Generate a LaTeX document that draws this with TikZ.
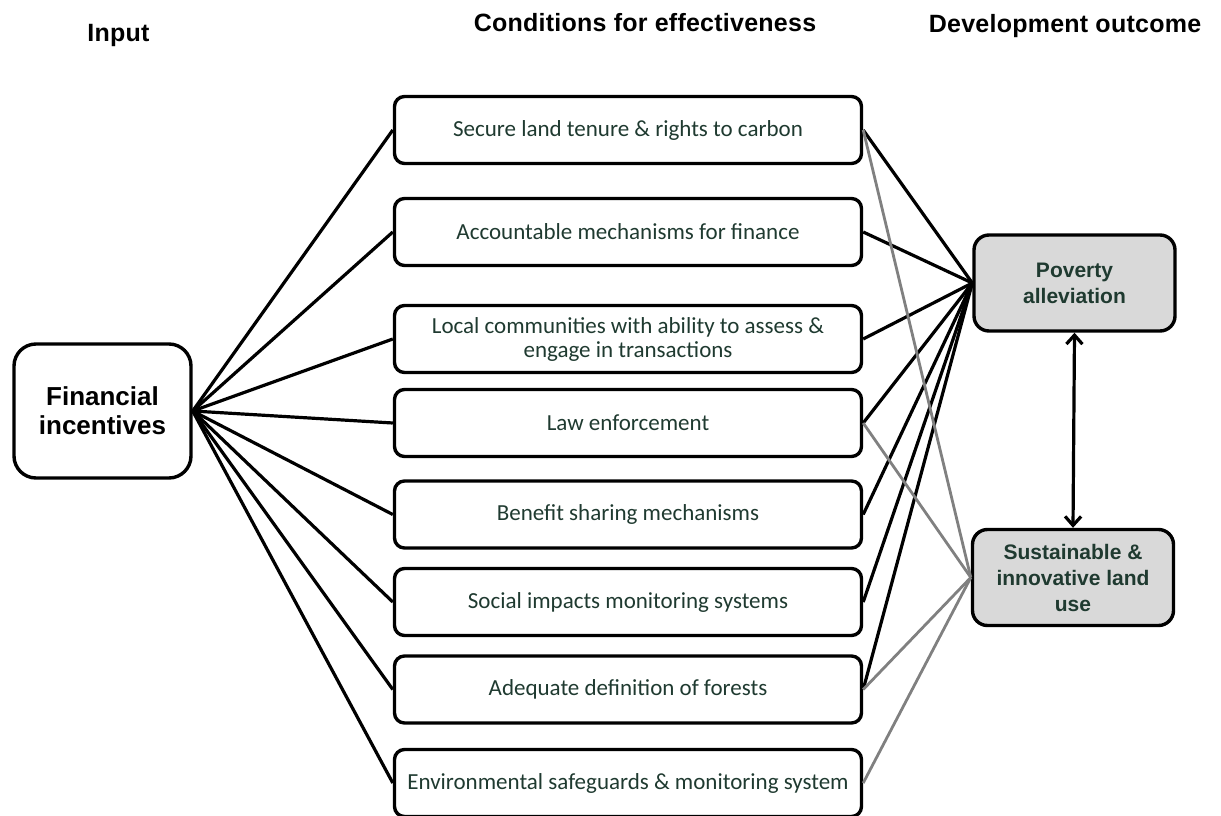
\documentclass[tikz,border=0pt]{standalone}
\usepackage{fontspec}
\setmainfont{Liberation Sans}
\newfontfamily\boxfont{Carlito}
\usetikzlibrary{arrows.meta}
\definecolor{txtgreen}{HTML}{1F3A30}
\definecolor{linegray}{HTML}{808080}
\definecolor{fillgray}{HTML}{D9D9D9}
\begin{document}
\begin{tikzpicture}[x=1pt,y=-1pt,
  cond/.style={draw, line width=3.4pt, rounded corners=10pt, minimum width=467pt, minimum height=67pt, inner sep=0pt, align=center, font=\boxfont\fontsize{23}{24}\selectfont, text=txtgreen},
  outc/.style={draw, line width=3.4pt, rounded corners=15pt, fill=fillgray, minimum width=201pt, minimum height=96pt, inner sep=0pt, align=center, font=\bfseries\fontsize{21}{26}\selectfont, text=txtgreen},
  inbox/.style={draw, line width=3.4pt, rounded corners=22pt, minimum width=177pt, minimum height=134pt, inner sep=0pt, align=center, font=\bfseries\fontsize{26}{29}\selectfont},
  hdr/.style={anchor=base, font=\bfseries\fontsize{25}{28}\selectfont\addfontfeature{LetterSpace=1}},
  blk/.style={line width=3.2pt},
  gry/.style={line width=2.8pt, draw=linegray},
  dbl/.style={line width=3.2pt, {Straight Barb[length=9pt,width=16pt]}-{Straight Barb[length=9pt,width=16pt]}}]
\useasboundingbox (0,0) rectangle (1221,816);

\node[hdr] (hin) at (118.5,42) {Input};
\node[hdr] (hcond) at (645,32) {Conditions for effectiveness};
\node[hdr] (hdev) at (1065,33) {Development outcome};

\node[inbox] (fi) at (102.5,411) {Financial\\incentives};

\node[cond] (c1) at (628,130) {Secure land tenure \& rights to carbon};
\node[cond] (c2) at (628,232) {Accountable mechanisms for finance};
\node[cond] (c3) at (628,339) {Local communities with ability to assess \&\\engage in transactions};
\node[cond] (c4) at (628,423) {Law enforcement};
\node[cond] (c5) at (628,514.5) {Benefit sharing mechanisms};
\node[cond] (c6) at (628,602) {Social impacts monitoring systems};
\node[cond] (c7) at (628,689.5) {Adequate definition of forests};
\node[cond] (c8) at (628,783) {Environmental safeguards \& monitoring system};

\node[outc] (pov) at (1074.5,283) {Poverty\\alleviation};
\node[outc] (sus) at (1073,577.5) {Sustainable \&\\innovative land\\use};

\foreach \i in {1,...,8} \draw[blk] (fi.east) -- (c\i.west);
\foreach \i in {1,...,7} \draw[blk] (c\i.east) -- (pov.west);
\foreach \i in {1,4,7,8} \draw[gry] (c\i.east) -- (sus.west);
\draw[dbl] (pov.south) -- (sus.north);
\end{tikzpicture}
\end{document}
